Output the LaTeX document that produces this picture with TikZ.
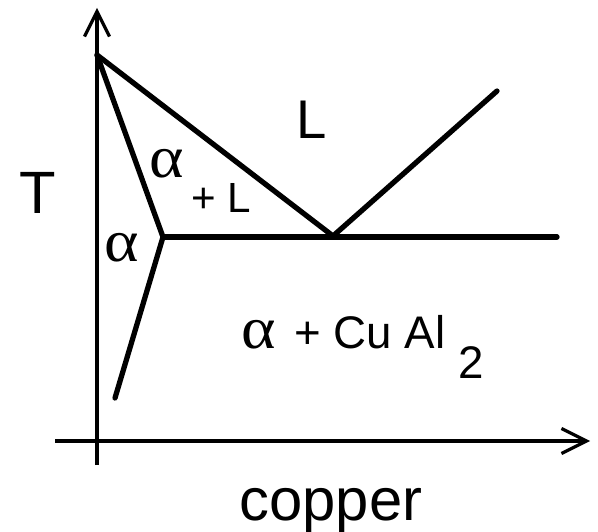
\documentclass[tikz,border=0pt]{standalone}
\usepackage{fontspec}
\setmainfont{Liberation Sans}
\newfontfamily\greekfont{Liberation Serif}
\usetikzlibrary{arrows.meta}
\tikzset{
  axis/.style={line width=1.8pt, -{Straight Barb[length=5mm,width=5mm,line width=1.8pt]}},
  phaseline/.style={line width=3pt, line cap=round, line join=round},
  biglabel/.style={font=\fontsize{34}{40}\selectfont, inner sep=0pt},
  greeklabel/.style={font=\greekfont\fontsize{34}{38}\selectfont, inner sep=0pt, xscale=1.1},
  phaselabel/.style={font=\fontsize{#1}{#1}\selectfont, inner sep=0pt},
}

\begin{document}
\begin{tikzpicture}

\useasboundingbox (0,0) rectangle (11.96,10.62);

% --- Axes ---
\coordinate (ybot) at (1.94,1.32);
\coordinate (ytop) at (1.94,10.46);
\coordinate (xleft) at (1.10,1.80);
\coordinate (xright) at (11.80,1.80);
\draw[axis] (ybot) -- (ytop);
\draw[axis] (xleft) -- (xright);

\node[biglabel] (tlab) at (0.76,6.76) {T};
\node[biglabel, anchor=base] (culab) at (6.62,0.22) {copper};

% --- Phase boundaries ---
\coordinate (melt) at (1.94,9.52);
\coordinate (eut) at (6.66,5.90);
\coordinate (liqend) at (9.94,8.80);
\coordinate (sol) at (3.26,5.88);
\coordinate (eutend) at (11.14,5.88);
\coordinate (solvend) at (2.30,2.66);

\draw[phaseline] (melt) -- (eut) -- (liqend);
\draw[phaseline] (melt) -- (sol) -- (solvend);
\draw[phaseline] (sol) -- (eutend);

% --- Region labels ---
\node[phaselabel=31] (liq) at (6.24,8.22) {L};
\node[greeklabel] (alpha1) at (3.34,7.34) {α};
\node[phaselabel=24] (pluslab) at (4.42,6.66) {+ L};
\node[greeklabel] (alpha2) at (2.44,5.66) {α};
\node[greeklabel, anchor=base west] (alpha3) at (4.82,3.66) {α};
\node[phaselabel=26, anchor=base west] (cuallab) at (5.88,3.66) {+ Cu Al};
\node[phaselabel=26, anchor=base west] (sublab) at (9.16,3.06) {2};

\end{tikzpicture}
\end{document}
